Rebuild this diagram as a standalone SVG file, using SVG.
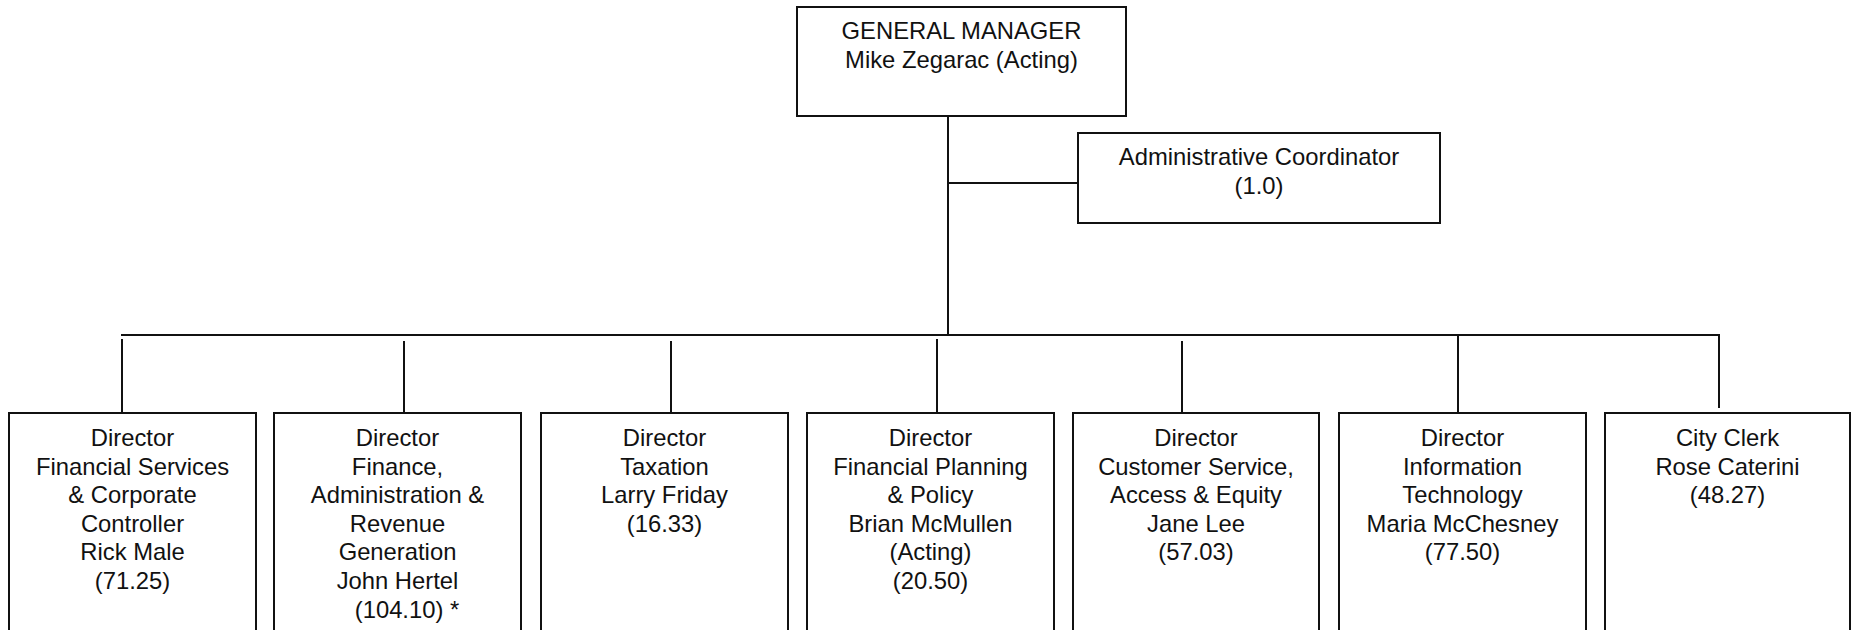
<svg xmlns="http://www.w3.org/2000/svg" width="1855" height="630" viewBox="0 0 1855 630">
  <style>
    .box { fill: #ffffff; stroke: #111111; stroke-width: 2; }
    .wire { fill: none; stroke: #111111; stroke-width: 2; }
    text { font-family: "Liberation Sans", Arial, sans-serif; font-size: 23.8px; fill: #111111; text-anchor: middle; }
  </style>
  <rect width="1855" height="630" fill="#ffffff"/>

  <!-- reporting lines -->
  <g id="connectors">
    <line class="wire" x1="948" y1="116" x2="948" y2="336"/>
    <line class="wire" x1="948" y1="183" x2="1078" y2="183"/>
    <line class="wire" x1="121" y1="335" x2="1720" y2="335"/>
    <line class="wire" x1="122" y1="339" x2="122" y2="413"/>
    <line class="wire" x1="404" y1="341" x2="404" y2="413"/>
    <line class="wire" x1="671" y1="341" x2="671" y2="413"/>
    <line class="wire" x1="937" y1="339" x2="937" y2="413"/>
    <line class="wire" x1="1182" y1="341" x2="1182" y2="413"/>
    <line class="wire" x1="1458" y1="335" x2="1458" y2="413"/>
    <line class="wire" x1="1719" y1="335" x2="1719" y2="408"/>
  </g>

  <g id="general-manager">
    <rect class="box" x="797" y="7" width="329" height="109"/>
    <text x="961.5" y="39">GENERAL MANAGER</text>
    <text x="961.5" y="68">Mike Zegarac (Acting)</text>
  </g>

  <g id="admin-coordinator">
    <rect class="box" x="1078" y="133" width="362" height="90"/>
    <text x="1259" y="165">Administrative Coordinator</text>
    <text x="1259" y="194">(1.0)</text>
  </g>

  <g id="financial-services">
    <rect class="box" x="9" y="413" width="247" height="230"/>
    <text x="132.5" y="446">Director</text>
    <text x="132.5" y="474.6">Financial Services</text>
    <text x="132.5" y="503.2">&amp; Corporate</text>
    <text x="132.5" y="531.8">Controller</text>
    <text x="132.5" y="560.4">Rick Male</text>
    <text x="132.5" y="589">(71.25)</text>
  </g>

  <g id="finance-admin-revenue">
    <rect class="box" x="274" y="413" width="247" height="230"/>
    <text x="397.5" y="446">Director</text>
    <text x="397.5" y="474.6">Finance,</text>
    <text x="397.5" y="503.2">Administration &amp;</text>
    <text x="397.5" y="531.8">Revenue</text>
    <text x="397.5" y="560.4">Generation</text>
    <text x="397.5" y="589">John Hertel</text>
    <text x="407" y="617.6">(104.10) *</text>
  </g>

  <g id="taxation">
    <rect class="box" x="541" y="413" width="247" height="230"/>
    <text x="664.5" y="446">Director</text>
    <text x="664.5" y="474.6">Taxation</text>
    <text x="664.5" y="503.2">Larry Friday</text>
    <text x="664.5" y="531.8">(16.33)</text>
  </g>

  <g id="financial-planning">
    <rect class="box" x="807" y="413" width="247" height="230"/>
    <text x="930.5" y="446">Director</text>
    <text x="930.5" y="474.6">Financial Planning</text>
    <text x="930.5" y="503.2">&amp; Policy</text>
    <text x="930.5" y="531.8">Brian McMullen</text>
    <text x="930.5" y="560.4">(Acting)</text>
    <text x="930.5" y="589">(20.50)</text>
  </g>

  <g id="customer-service">
    <rect class="box" x="1073" y="413" width="246" height="230"/>
    <text x="1196" y="446">Director</text>
    <text x="1196" y="474.6">Customer Service,</text>
    <text x="1196" y="503.2">Access &amp; Equity</text>
    <text x="1196" y="531.8">Jane Lee</text>
    <text x="1196" y="560.4">(57.03)</text>
  </g>

  <g id="information-technology">
    <rect class="box" x="1339" y="413" width="247" height="230"/>
    <text x="1462.5" y="446">Director</text>
    <text x="1462.5" y="474.6">Information</text>
    <text x="1462.5" y="503.2">Technology</text>
    <text x="1462.5" y="531.8">Maria McChesney</text>
    <text x="1462.5" y="560.4">(77.50)</text>
  </g>

  <g id="city-clerk">
    <rect class="box" x="1605" y="413" width="245" height="230"/>
    <text x="1727.5" y="446">City Clerk</text>
    <text x="1727.5" y="474.6">Rose Caterini</text>
    <text x="1727.5" y="503.2">(48.27)</text>
  </g>
</svg>
